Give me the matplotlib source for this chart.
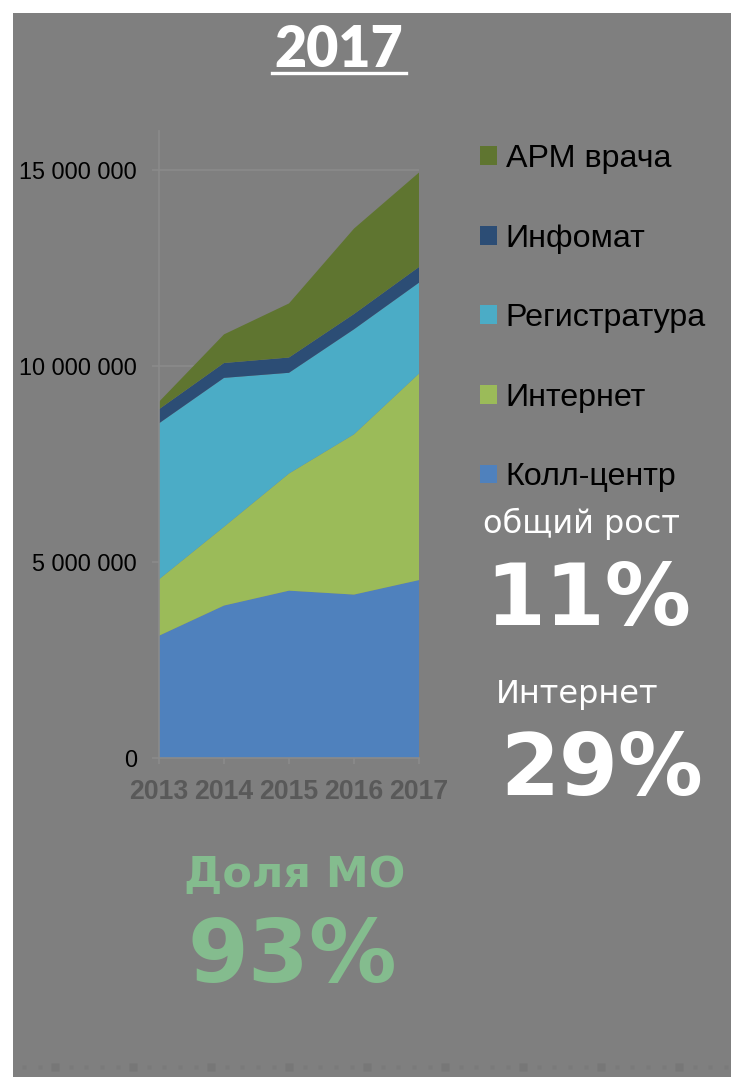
import numpy as np
import matplotlib
matplotlib.use("Agg")
from matplotlib import pyplot as plt
from matplotlib.patches import Rectangle
from matplotlib.lines import Line2D
from matplotlib.ticker import FuncFormatter

# data, millions of requests per channel
years = [2013, 2014, 2015, 2016, 2017]
call_center = [3.12, 3.89, 4.27, 4.17, 4.54]
internet = [1.44, 2.01, 2.99, 4.09, 5.27]
registry = [3.98, 3.80, 2.57, 2.68, 2.32]
infomat = [0.36, 0.38, 0.39, 0.39, 0.40]
doctor_ws = [0.19, 0.73, 1.38, 2.18, 2.41]

series_names = ["Колл-центр", "Интернет", "Регистратура", "Инфомат", "АРМ врача"]
series_colors = ["#4f81bd", "#9bbb59", "#4bacc6", "#2c4d75", "#5f7530"]
y_ticks = [0, 5_000_000, 10_000_000, 15_000_000]

title_text = "2017"
growth_label = "общий рост"
growth_value = "11%"
inet_label = "Интернет"
inet_value = "29%"
share_label = "Доля МО"
share_value = "93%"

W, H = 731, 1081
BG = "#7f7f7f"
LINE = "#8b8b8b"


def fx(x):
    return x / W


def fy(y):
    return 1 - y / H


fig = plt.figure(figsize=(W / 100, H / 100), dpi=100, facecolor="white")

# gray slide background
fig.add_artist(Rectangle((fx(13), fy(1077)), fx(731) - fx(13), fy(13) - fy(1077),
                         transform=fig.transFigure, facecolor=BG, edgecolor="none", zorder=0))
# faint dotted strip at the bottom
xs = np.arange(24, 731, 15.6)
big = (np.arange(len(xs)) % 5) == 2
fig.add_artist(Line2D([fx(v) for v in xs[~big]], [fy(1067)] * (~big).sum(), transform=fig.transFigure,
                      ls="none", marker="s", ms=2.5, mfc="#7a7a7a", mec="none"))
fig.add_artist(Line2D([fx(v) for v in xs[big]], [fy(1067)] * big.sum(), transform=fig.transFigure,
                      ls="none", marker="s", ms=6, mfc="#777777", mec="none"))

# main area chart
ax = fig.add_axes([fx(159), fy(758), fx(419) - fx(159), fy(131) - fy(758)])
ax.set_facecolor("none")
vals = [np.array(s) * 1e6 for s in (call_center, internet, registry, infomat, doctor_ws)]
polys = ax.stackplot(years, *vals, colors=series_colors, labels=series_names, linewidth=0, zorder=2)

ax.set_xlim(years[0], years[-1])
ax.set_ylim(0, 16_000_000)
ax.set_yticks(y_ticks)
ax.yaxis.set_major_formatter(FuncFormatter(lambda v, p: f"{int(v):,}".replace(",", " ")))
ax.set_xticks(years)
ax.grid(axis="y", color=LINE, lw=1.2, zorder=1)
ax.set_axisbelow(True)
for side in ("top", "right"):
    ax.spines[side].set_visible(False)
for side in ("left", "bottom"):
    ax.spines[side].set_color(LINE)
    ax.spines[side].set_linewidth(1.2)
ax.tick_params(axis="y", length=5, width=1.2, color=LINE, pad=11, labelsize=16.8,
               labelcolor="black", labelfontfamily="Liberation Sans")
ax.tick_params(axis="x", length=4, width=1.2, color=LINE, pad=11, labelsize=19.2,
               labelcolor="#595959", labelfontfamily="Liberation Sans")
for lab in ax.get_xticklabels():
    lab.set_fontweight("bold")

# legend, top series first
leg = fig.legend(polys[::-1], series_names[::-1], loc="upper left",
                 bbox_to_anchor=(fx(480), fy(144)), frameon=False,
                 prop={"family": "Liberation Sans", "size": 23.2},
                 handlelength=0.52, handleheight=0.52, handletextpad=0.28,
                 labelspacing=1.54, borderpad=0, borderaxespad=0)
for t in leg.get_texts():
    t.set_color("black")

# title with underline
fig.text(fx(339), fy(67), title_text, ha="center", va="baseline", color="white",
         fontsize=40, fontweight="heavy", family="Lato")
fig.add_artist(Line2D([fx(272), fx(406)], [fy(72.5), fy(72.5)], transform=fig.transFigure,
                      color="white", lw=2.4))

# side notes
fig.text(fx(483), fy(533), growth_label, ha="left", va="baseline", color="white",
         fontsize=23, family="DejaVu Sans")
fig.text(fx(485), fy(625), growth_value, ha="left", va="baseline", color="white",
         fontsize=62, fontweight="bold", family="DejaVu Sans")
fig.text(fx(496), fy(703), inet_label, ha="left", va="baseline", color="white",
         fontsize=23, family="DejaVu Sans")
fig.text(fx(500), fy(795), inet_value, ha="left", va="baseline", color="white",
         fontsize=61, fontweight="bold", family="DejaVu Sans")
fig.text(fx(184), fy(887), share_label, ha="left", va="baseline", color="#84bc8e",
         fontsize=31, fontweight="bold", family="DejaVu Sans")
fig.text(fx(188), fy(982), share_value, ha="left", va="baseline", color="#84bc8e",
         fontsize=63, fontweight="bold", family="DejaVu Sans")

fig.savefig("out.png", dpi=100, facecolor=fig.get_facecolor())
